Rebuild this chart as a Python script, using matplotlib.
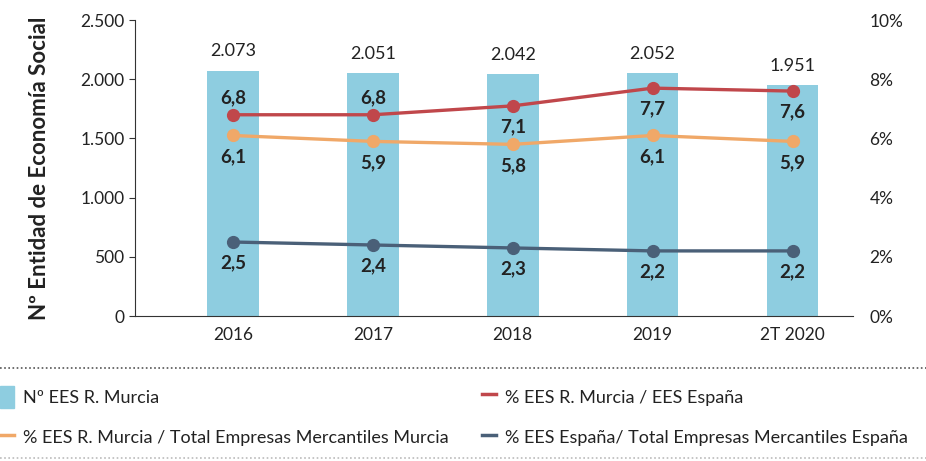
#!/usr/bin/env python3

import matplotlib.pyplot as plt
from matplotlib.lines import Line2D
from matplotlib.patches import Patch
import numpy as np

plt.rcParams["font.family"] = ["Lato", "DejaVu Sans"]

years = ["2016", "2017", "2018", "2019", "2T 2020"]
ees_murcia = [2073, 2051, 2042, 2052, 1951]
pct_murcia_espana = [6.8, 6.8, 7.1, 7.7, 7.6]
pct_murcia_mercantiles = [6.1, 5.9, 5.8, 6.1, 5.9]
pct_espana_mercantiles = [2.5, 2.4, 2.3, 2.2, 2.2]

# label above (True) or below (False) each red point
red_label_above = [True, True, False, False, False]

BAR = "#8ecde0"
RED = "#c0474b"
ORANGE = "#f0a868"
NAVY = "#4a6078"
TEXT = "#222222"


def es_int(v):
    return f"{v:,.0f}".replace(",", ".")


def es_dec(v):
    return f"{v:.1f}".replace(".", ",")


def main():
    fig = plt.figure(figsize=(9.26, 4.61), dpi=100)
    ax = fig.add_axes([0.1458, 0.3145, 0.775, 0.642])
    ax2 = ax.twinx()

    x = np.arange(len(years))
    ax.bar(x, ees_murcia, width=0.37, color=BAR, zorder=1)
    for xi, v in zip(x, ees_murcia):
        ax.annotate(es_int(v), (xi, v), xytext=(0, 8), textcoords="offset points",
                    ha="center", va="bottom", fontsize=13, color=TEXT)

    ax.set_ylim(0, 2500)
    ax.set_yticks(range(0, 2501, 500))
    ax.set_yticklabels([es_int(v) for v in range(0, 2501, 500)])
    ax.set_xlim(-0.7, 4.43)
    ax.set_xticks(x)
    ax.set_xticklabels(years)
    ax.tick_params(axis="x", length=0, pad=8, labelsize=12.5, labelcolor=TEXT)
    ax.tick_params(axis="y", length=4, labelsize=12.5, labelcolor=TEXT, color="#333333")
    ax.spines[["top", "right"]].set_visible(False)
    ax.spines["left"].set_color("#333333")
    ax.spines["bottom"].set_color("#333333")
    ax.set_ylabel("Nº Entidad de Economía Social", fontsize=16, fontweight="bold",
                  color=TEXT, labelpad=22)

    series = [
        (pct_murcia_espana, RED, red_label_above),
        (pct_murcia_mercantiles, ORANGE, [False] * 5),
        (pct_espana_mercantiles, NAVY, [False] * 5),
    ]
    for vals, color, above in series:
        ax2.plot(x, vals, color=color, lw=2.4, marker="o", ms=8.5, zorder=3)
        for xi, v, up in zip(x, vals, above):
            ax2.annotate(es_dec(v), (xi, v), xytext=(0, 6 if up else -9),
                         textcoords="offset points", ha="center",
                         va="bottom" if up else "top",
                         fontsize=13.5, fontweight="bold", color=TEXT)

    ax2.set_ylim(0, 10)
    ax2.set_yticks(range(0, 11, 2))
    ax2.set_yticklabels([f"{v}%" for v in range(0, 11, 2)])
    ax2.tick_params(axis="y", length=0, pad=12, labelsize=12.5, labelcolor=TEXT)
    for s in ax2.spines.values():
        s.set_visible(False)

    # dotted separators around the legend
    fig.add_artist(Line2D([0, 1], [0.202, 0.202], transform=fig.transFigure,
                          color="#555555", lw=1.2, ls=(0, (1, 1.5))))
    fig.add_artist(Line2D([0, 1], [0.006, 0.006], transform=fig.transFigure,
                          color="#bbbbbb", lw=1.2, ls=(0, (1, 1.5))))

    handles = [
        Patch(color=BAR, label="Nº EES R. Murcia"),
        Line2D([], [], color=ORANGE, lw=2.5, label="% EES R. Murcia / Total Empresas Mercantiles Murcia"),
        Line2D([], [], color=RED, lw=2.5, label="% EES R. Murcia / EES España"),
        Line2D([], [], color=NAVY, lw=2.5, label="% EES España/ Total Empresas Mercantiles España"),
    ]
    fig.legend(handles=handles, ncol=2, loc="lower left", bbox_to_anchor=(0.0, 0.028),
               borderpad=0, borderaxespad=0, frameon=False, fontsize=13,
               handlelength=0.8, handleheight=1.5, handletextpad=0.5,
               columnspacing=1.8, labelspacing=1.0, labelcolor=TEXT)

    fig.savefig("out.png", dpi=100)
    plt.close(fig)


if __name__ == "__main__":
    main()
